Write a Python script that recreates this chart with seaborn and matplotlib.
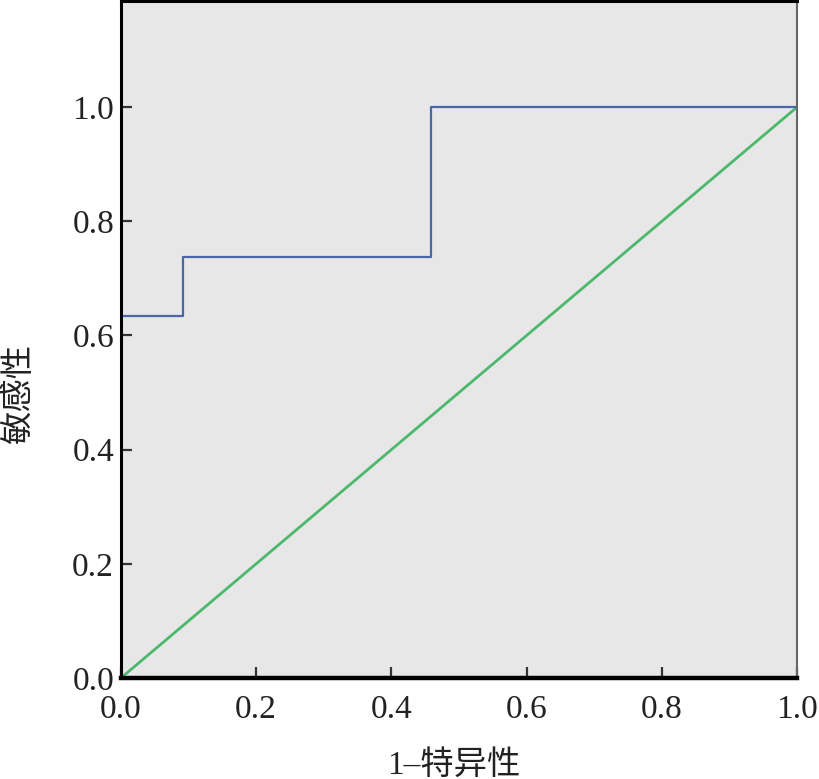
import matplotlib
matplotlib.use("Agg")
import matplotlib.pyplot as plt
import pandas as pd
import seaborn as sns

# ROC step curve
fpr = [0.0, 0.092, 0.092, 0.459, 0.459, 1.0]
tpr = [0.635, 0.635, 0.737, 0.737, 1.0, 1.0]
# reference diagonal
diag_x = [0.0, 1.0]
diag_y = [0.0, 1.0]
ticks = [0.0, 0.2, 0.4, 0.6, 0.8, 1.0]
tick_labels = ["0.0", "0.2", "0.4", "0.6", "0.8", "1.0"]

sns.set_style("white")
plt.rcParams["font.family"] = ["Liberation Serif", "Noto Sans CJK SC"]

fig = plt.figure(figsize=(8.19, 7.79), dpi=100)
ax = fig.add_axes([0.1477, 0.1297, 0.8254, 0.8690])
ax.set_facecolor("#e8e7e8")

roc = pd.DataFrame({"fpr": fpr, "tpr": tpr})
ref = pd.DataFrame({"x": diag_x, "y": diag_y})
sns.lineplot(data=ref, x="x", y="y", sort=False, estimator=None,
             color="#4cb86c", lw=2.0, ax=ax)
sns.lineplot(data=roc, x="fpr", y="tpr", sort=False, estimator=None,
             color="#4a65a8", lw=1.6, ax=ax)

ax.set_xlim(0, 1.0)
ax.set_ylim(0, 1.186)
ax.set_xticks(ticks)
ax.set_xticklabels(tick_labels)
ax.set_yticks(ticks)
ax.set_yticklabels(tick_labels)
ax.tick_params(axis="both", direction="in", length=8, width=1.6, color="#333333",
               labelsize=24, labelcolor="#222222", pad=5, bottom=True, left=True)
ax.tick_params(axis="x", pad=12)

for side in ["left", "top"]:
    ax.spines[side].set_color("black")
    ax.spines[side].set_linewidth(2.2)
ax.spines["bottom"].set_color("black")
ax.spines["bottom"].set_linewidth(3.2)
ax.spines["right"].set_color("#666666")
ax.spines["right"].set_linewidth(1.5)

ax.set_xlabel("1–特异性", fontsize=24, color="#222222",
              family=["Liberation Serif", "Noto Sans CJK SC"])
ax.set_ylabel("敏感性", fontsize=24, color="#222222",
              family=["Noto Sans CJK SC"])
ax.xaxis.set_label_coords(0.4926, -0.106)
ax.yaxis.set_label_coords(-0.125, 0.4195)

fig.savefig("out.png", dpi=100)
